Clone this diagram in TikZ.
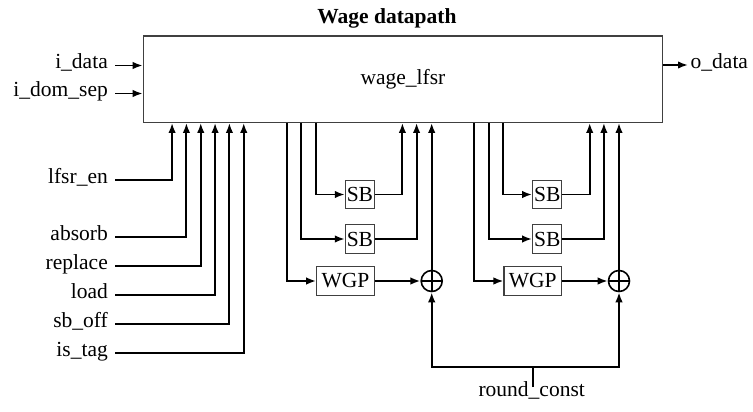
\documentclass[tikz,border=0pt]{standalone}
\usepackage{fontspec}
\setmainfont{Liberation Serif}
\usetikzlibrary{arrows.meta,calc}
\begin{document}
\begin{tikzpicture}[x=1pt,y=-1pt,
  font=\fontsize{21.5}{24}\selectfont,
  wire/.style={line width=1.9pt},
  arr/.style={wire,-{Latex[length=10pt,width=7.5pt]}},
  block/.style={draw=black!75,line width=1.2pt,inner sep=0pt,minimum height=28.5pt},
  sbbox/.style={block,minimum width=29pt},
  wgpbox/.style={block,minimum width=57.5pt},
  sig/.style={inner xsep=7pt,inner ysep=0pt,text height=0.75em,text depth=0.1em},
  xorop/.style={circle,draw,line width=1.6pt,minimum size=21pt,inner sep=0pt,
    path picture={\draw[line width=1.6pt]
      (path picture bounding box.north) -- (path picture bounding box.south)
      (path picture bounding box.west) -- (path picture bounding box.east);}}
]
\useasboundingbox (0,0) rectangle (753,412);

% title and the LFSR block
\node[font=\fontsize{21.5}{24}\selectfont\bfseries] (title) at (387,18.5) {Wage datapath};
\node[draw=black!75,line width=1.2pt,minimum width=519.4pt,minimum height=86.3pt,inner sep=0pt]
  (lfsr) at (403,79.2) {wage\_lfsr};

% data inputs and output
\node[sig,anchor=east] (idata) at (115,65.5) {i\_data};
\node[sig,anchor=east] (idom) at (115,93.5) {i\_dom\_sep};
\draw[arr] (idata.east) -- (idata.east -| lfsr.west);
\draw[arr] (idom.east) -- (idom.east -| lfsr.west);
\node[sig,inner xsep=2.5pt,anchor=west] (odata) at (688,65) {o\_data};
\draw[arr] (odata.west -| lfsr.east) -- (odata.west);

% control signals entering from below
\foreach \name/\txt/\yy/\k in {en/lfsr\_en/180/0, absorb/absorb/237.3/1,
    replace/replace/266.3/2, load/load/295.3/3, sboff/sb\_off/324.3/4, istag/is\_tag/353.3/5} {
  \node[sig,anchor=east] (\name) at (115,\yy) {\txt};
  \coordinate (c\name) at ($(lfsr.south west)+(29.4+14.33*\k,0)$);
  \draw[arr] (\name.east) -| (c\name);
}

% the two round-function slices
\foreach \o/\k in {0/1,187.3/2} {
  \coordinate (da\k) at ($(lfsr.south west)+(144.2+\o,0)$);
  \coordinate (db\k) at ($(lfsr.south west)+(158.7+\o,0)$);
  \coordinate (dc\k) at ($(lfsr.south west)+(173.0+\o,0)$);
  \coordinate (ua\k) at ($(lfsr.south west)+(259.7+\o,0)$);
  \coordinate (ub\k) at ($(lfsr.south west)+(273.9+\o,0)$);
  \node[sbbox] (sba\k) at (359.9+\o,194.5) {SB};
  \node[sbbox] (sbb\k) at (359.9+\o,239) {SB};
  \node[wgpbox] (wgp\k) at (345.5+\o,281) {WGP};
  \node[xorop] (xor\k) at (431.7+\o,281) {};
  \draw[arr] (dc\k) |- (sba\k.west);
  \draw[arr] (db\k) |- (sbb\k.west);
  \draw[arr] (da\k) |- (wgp\k.west);
  \draw[arr] (sba\k.east) -| (ua\k);
  \draw[arr] (sbb\k.east) -| (ub\k);
  \draw[arr] (wgp\k.east) -- (xor\k.west);
  \draw[arr] (xor\k.north) -- (xor\k.north |- lfsr.south);
}

% round constant feeding both XORs
\node[inner sep=0pt,anchor=base] (rc) at (531.7,396) {round\_const};
\coordinate (rcend) at ($(rc.base)+(1,-9)$);
\coordinate (rcjoin) at ($(rc.base)+(1,-29.3)$);
\draw[wire] (rcend) -- (rcjoin);
\draw[arr] (rcjoin) -| (xor1.south);
\draw[arr] (rcjoin) -| (xor2.south);
\end{tikzpicture}
\end{document}
